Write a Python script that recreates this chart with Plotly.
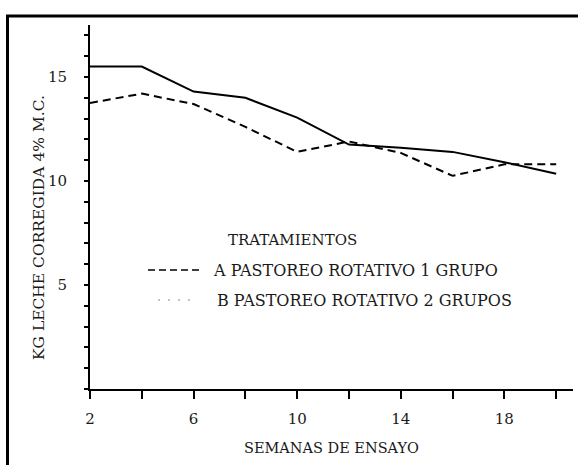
import plotly.graph_objects as go

# ---------------- data ----------------
semanas = [2, 4, 6, 8, 10, 12, 14, 16, 18, 20]
grupo_1 = [13.75, 14.2, 13.7, 12.6, 11.4, 11.9, 11.35, 10.25, 10.8, 10.8]   # dashed (A)
grupo_2 = [15.5, 15.5, 14.3, 14.0, 13.05, 11.75, 11.6, 11.4, 10.9, 10.35]   # solid (B)

x_tickvals = [2, 4, 6, 8, 10, 12, 14, 16, 18, 20]
x_ticktext = ["2", "", "6", "", "10", "", "14", "", "18", ""]
y_tickvals = list(range(0, 18))
y_ticktext = ["5" if v == 5 else "10" if v == 10 else "15" if v == 15 else "" for v in y_tickvals]

y_title = "KG LECHE CORREGIDA 4% M.C."
x_title = "SEMANAS DE ENSAYO"
leg_title = "TRATAMIENTOS"
leg_a = "A PASTOREO ROTATIVO 1 GRUPO"
leg_b = "B PASTOREO ROTATIVO 2 GRUPOS"

# ---------------- layout geometry ----------------
W, H = 578, 465
L, T, R, B = 90, 25, 5, 76
PW, PH = W - L - R, H - T - B

def px(xp):
    return (xp - L) / PW

def py(yp):
    return (H - B - yp) / PH

FONT = "DejaVu Serif"
INK = "#1a1a1a"

fig = go.Figure()
fig.add_trace(go.Scatter(x=semanas, y=grupo_2, mode="lines", name="B",
                         line=dict(color="black", width=2), showlegend=False))
fig.add_trace(go.Scatter(x=semanas, y=grupo_1, mode="lines", name="A",
                         line=dict(color="black", width=2, dash="8px,5px"), showlegend=False))

fig.update_layout(
    width=W, height=H,
    margin=dict(l=L, r=R, t=T, b=B),
    paper_bgcolor="white", plot_bgcolor="white",
    font=dict(family=FONT, size=15, color=INK),
    showlegend=False,
)
fig.update_xaxes(
    range=[2, 20.65], showgrid=False, zeroline=False,
    showline=True, linecolor="black", linewidth=2,
    ticks="outside", ticklen=8, tickwidth=1.5, tickcolor="black",
    tickvals=x_tickvals, ticktext=x_ticktext, ticklabelstandoff=7,
    tickfont=dict(family=FONT, size=15, color=INK),
)
fig.update_yaxes(
    range=[0, 17.5], showgrid=False, zeroline=False,
    showline=True, linecolor="black", linewidth=2,
    ticks="outside", ticklen=4, tickwidth=1.5, tickcolor="black",
    tickvals=y_tickvals, ticktext=y_ticktext, ticklabelstandoff=14,
    tickfont=dict(family=FONT, size=15, color=INK),
)

# frame of the scanned figure
fig.add_shape(type="line", xref="paper", yref="paper",
              x0=px(6), x1=px(578), y0=py(16), y1=py(16),
              line=dict(color="black", width=3))
fig.add_shape(type="line", xref="paper", yref="paper",
              x0=px(7.5), x1=px(7.5), y0=py(15), y1=py(465),
              line=dict(color="black", width=3))

# axis titles
fig.add_annotation(text=y_title, xref="paper", yref="paper", x=px(39), y=py(228),
                   textangle=-90, showarrow=False, font=dict(family=FONT, size=15.5, color=INK),
                   xanchor="center", yanchor="middle")
fig.add_annotation(text=x_title, xref="paper", yref="paper", x=px(331), y=py(448),
                   showarrow=False, font=dict(family=FONT, size=14.5, color=INK),
                   xanchor="center", yanchor="middle")

# legend block
fig.add_annotation(text=leg_title, xref="paper", yref="paper", x=px(226), y=py(240),
                   showarrow=False, xanchor="left", yanchor="middle",
                   font=dict(family=FONT, size=15, color=INK))
fig.add_shape(type="line", xref="paper", yref="paper",
              x0=px(148), x1=px(201), y0=py(270), y1=py(270),
              line=dict(color="black", width=1.5, dash="7px,4px"))
fig.add_annotation(text=leg_a, xref="paper", yref="paper", x=px(211), y=py(270),
                   showarrow=False, xanchor="left", yanchor="middle",
                   font=dict(family=FONT, size=16, color=INK))
fig.add_shape(type="line", xref="paper", yref="paper",
              x0=px(158), x1=px(195), y0=py(300), y1=py(300),
              line=dict(color="#888888", width=1, dash="2px,8px"))
fig.add_annotation(text=leg_b, xref="paper", yref="paper", x=px(215), y=py(300),
                   showarrow=False, xanchor="left", yanchor="middle",
                   font=dict(family=FONT, size=16, color=INK))

fig.write_html("out.html", post_script="document.body.style.margin='0';",
               config={"displayModeBar": False})
